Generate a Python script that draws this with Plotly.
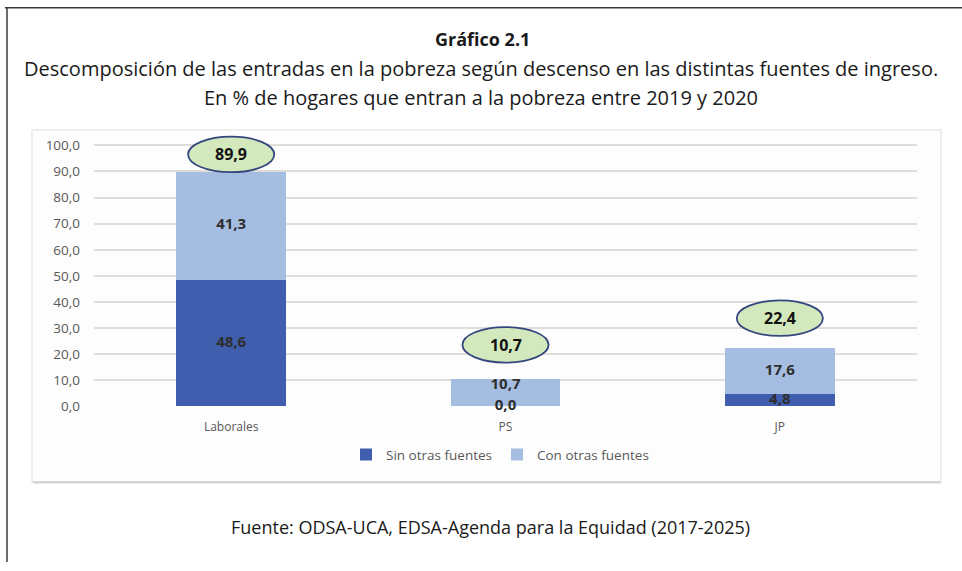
import plotly.graph_objects as go

# ---- data ----
categories = ["Laborales", "PS", "JP"]
sin_otras = [48.6, 0.0, 4.8]
con_otras = [41.3, 10.7, 17.6]
totales = [89.9, 10.7, 22.4]
y_ticks = [0, 10, 20, 30, 40, 50, 60, 70, 80, 90, 100]

# ---- layout constants (pixels of the 962x571 page) ----
W, H = 962, 571
def px(x):
    return x / W
def py(y):
    return 1 - y / H

ellipse_offsets = [6.6, 12.9, 11.4]   # vertical offset of total-bubble above bar top (data units)
ellipse_half_w = 0.157
ellipse_half_h = 6.8

DARK = "#3f5fae"
LIGHT = "#a4bde1"
TXT = "#2e2e2e"
GRAY = "#595959"
FONT = "Open Sans"

def fmt(v):
    return f"{v:.1f}".replace(".", ",")

fig = go.Figure()
fig.add_trace(go.Bar(x=categories, y=sin_otras, name="Sin otras fuentes",
                     marker=dict(color=DARK, line=dict(width=0)), textposition="none",
                     hoverinfo="skip"))
fig.add_trace(go.Bar(x=categories, y=con_otras, name="Con otras fuentes",
                     marker=dict(color=LIGHT, line=dict(width=0)), textposition="none",
                     hoverinfo="skip"))

# value labels centred on each segment (nudged apart when a segment is empty)
lab_y = [s / 2 for s in sin_otras] + [s + c / 2 for s, c in zip(sin_otras, con_otras)]
lab_t = [fmt(v) for v in sin_otras + con_otras]
lab_pos = ["middle center"] * 3 + ["top center" if s == 0 else "middle center" for s in sin_otras]
fig.add_trace(go.Scatter(x=categories + categories, y=lab_y, text=lab_t, mode="text",
                         textposition=lab_pos, cliponaxis=False,
                         textfont=dict(family=FONT, size=15, color=TXT, weight="bold"),
                         showlegend=False, hoverinfo="skip"))

# total bubbles
shapes = []
annotations = []
for i, (t, off) in enumerate(zip(totales, ellipse_offsets)):
    cy = t + off
    shapes.append(dict(type="circle", xref="x", yref="y",
                       x0=i - ellipse_half_w, x1=i + ellipse_half_w,
                       y0=cy - ellipse_half_h, y1=cy + ellipse_half_h,
                       fillcolor="#d3e8bd", line=dict(color="#34467e", width=1.8),
                       layer="above"))
    annotations.append(dict(text=f"<b>{fmt(t)}</b>", x=categories[i], y=cy, xref="x", yref="y",
                            showarrow=False, yanchor="middle",
                            font=dict(family=FONT, size=16, color="#111111")))

# chart box + outer frame
shapes.insert(0, dict(type="rect", xref="paper", yref="paper", x0=px(32), x1=px(941),
                      y0=py(490), y1=py(132), fillcolor="#fdfdfd",
                      line=dict(color="#e2dedb", width=1), layer="below"))
shapes.insert(1, dict(type="line", xref="paper", yref="paper", x0=px(33), x1=px(941),
                      y0=py(490), y1=py(490), line=dict(color="#d8d4d0", width=2.5),
                      layer="below"))
shapes.append(dict(type="line", xref="paper", yref="paper", x0=px(5), x1=px(962),
                   y0=py(8), y1=py(8), line=dict(color="#3a3a3a", width=1.5)))
shapes.append(dict(type="line", xref="paper", yref="paper", x0=px(7), x1=px(7),
                   y0=py(8), y1=py(571), line=dict(color="#3a3a3a", width=1.5)))

annotations += [
    dict(text="<b>Gráfico 2.1</b>", x=px(483), y=py(40), xref="paper", yref="paper",
         showarrow=False, yanchor="middle", font=dict(family=FONT, size=18, color="#1a1a1a")),
    dict(text="Descomposición de las entradas en la pobreza según descenso en las distintas fuentes de ingreso.",
         x=px(481), y=py(70), xref="paper", yref="paper", showarrow=False, yanchor="middle",
         font=dict(family=FONT, size=20, color="#1a1a1a")),
    dict(text="En % de hogares que entran a la pobreza entre 2019 y 2020",
         x=px(481), y=py(99), xref="paper", yref="paper", showarrow=False, yanchor="middle",
         font=dict(family=FONT, size=20, color="#1a1a1a")),
    dict(text="Fuente: ODSA-UCA, EDSA-Agenda para la Equidad (2017-2025)",
         x=px(491), y=py(535), xref="paper", yref="paper", showarrow=False, yanchor="middle",
         font=dict(family=FONT, size=18, color="#1a1a1a")),
]

fig.update_layout(
    width=W, height=H,
    margin=dict(l=0, r=0, t=0, b=0),
    paper_bgcolor="white", plot_bgcolor="rgba(0,0,0,0)",
    barmode="stack", bargap=0.6,
    separators=",.",
    shapes=shapes, annotations=annotations,
    showlegend=True,
    legend=dict(orientation="h", x=px(500), xanchor="center", y=py(462), yanchor="middle",
                font=dict(family=FONT, size=13.5, color=GRAY), bgcolor="rgba(0,0,0,0)",
                traceorder="normal", itemwidth=30),
    xaxis=dict(domain=[px(94), px(917)], range=[-0.5, 2.5], showgrid=False, showline=False,
               zeroline=False, ticks="", ticklabelstandoff=12,
               tickfont=dict(family=FONT, size=12, color=GRAY)),
    yaxis=dict(domain=[py(413), py(137)], range=[0, 104], tickvals=y_ticks,
               tickformat=".1f", showgrid=True, gridcolor="#e0dcd8", gridwidth=1.5,
               zeroline=False, showline=False, ticks="", ticklabelstandoff=13,
               tickfont=dict(family=FONT, size=13.5, color=GRAY)),
)

fig.write_html("out.html")
